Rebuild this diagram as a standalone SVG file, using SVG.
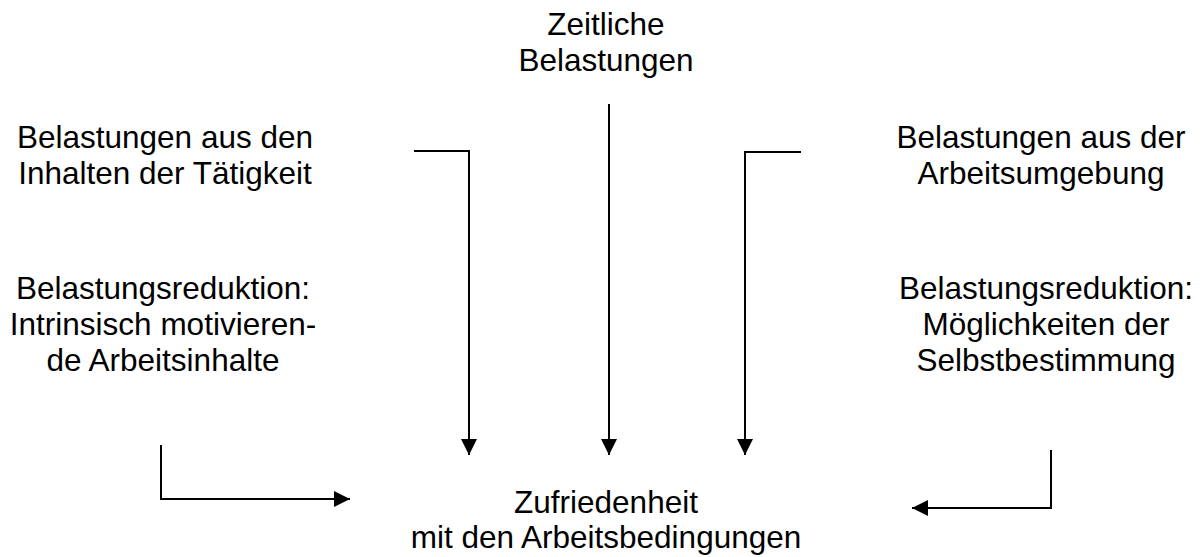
<svg xmlns="http://www.w3.org/2000/svg" width="1202" height="557" viewBox="0 0 1202 557">
<style>
text{font-family:"Liberation Sans",Arial,sans-serif;font-size:31.5px;fill:#000;text-anchor:middle}
.c{fill:none;stroke:#000;stroke-width:2}
</style>
<defs>
<marker id="ah" viewBox="0 0 10 10" refX="10" refY="5" markerWidth="16" markerHeight="16" markerUnits="userSpaceOnUse" orient="auto">
<path d="M0,0 L10,5 L0,10 z" fill="#000"/>
</marker>
</defs>
<rect width="1202" height="557" fill="#fff"/>
<g id="n-zeit"><text x="606" y="35">Zeitliche</text><text x="606" y="71">Belastungen</text></g>
<g id="n-inhalt"><text x="165" y="148">Belastungen aus den</text><text x="165" y="184">Inhalten der Tätigkeit</text></g>
<g id="n-umgebung"><text x="1041" y="148">Belastungen aus der</text><text x="1041" y="184">Arbeitsumgebung</text></g>
<g id="n-red1"><text x="163" y="299">Belastungsreduktion:</text><text x="163" y="335">Intrinsisch motivieren-</text><text x="163" y="371">de Arbeitsinhalte</text></g>
<g id="n-red2"><text x="1046" y="299">Belastungsreduktion:</text><text x="1046" y="335">Möglichkeiten der</text><text x="1046" y="371">Selbstbestimmung</text></g>
<g id="n-zuf"><text x="606" y="513">Zufriedenheit</text><text x="606" y="548">mit den Arbeitsbedingungen</text></g>
<g id="connectors">
<path class="c" d="M414,151 H469 V455" marker-end="url(#ah)"/>
<path class="c" d="M609,104 V455" marker-end="url(#ah)"/>
<path class="c" d="M801,152 H745 V455" marker-end="url(#ah)"/>
<path class="c" d="M161,445 V499 H350" marker-end="url(#ah)"/>
<path class="c" d="M1051,450 V508 H912" marker-end="url(#ah)"/>
</g>
</svg>
